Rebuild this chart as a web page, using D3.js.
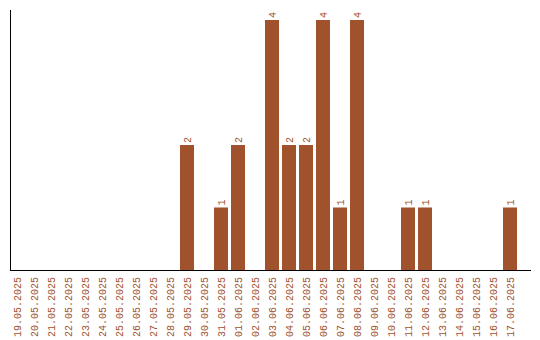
<!DOCTYPE html>
<html>
<head>
<meta charset="utf-8">
<script src="https://cdn.jsdelivr.net/npm/d3@7"></script>
<style>
  body { margin: 0; background: #fff; }
  text { font-family: "Liberation Mono", monospace; font-size: 10px; fill: #a0522d; }
</style>
</head>
<body>
<svg width="540" height="340"></svg>
<script>
var dates = ["19.05.2025", "20.05.2025", "21.05.2025", "22.05.2025", "23.05.2025",
    "24.05.2025", "25.05.2025", "26.05.2025", "27.05.2025", "28.05.2025",
    "29.05.2025", "30.05.2025", "31.05.2025", "01.06.2025", "02.06.2025",
    "03.06.2025", "04.06.2025", "05.06.2025", "06.06.2025", "07.06.2025",
    "08.06.2025", "09.06.2025", "10.06.2025", "11.06.2025", "12.06.2025",
    "13.06.2025", "14.06.2025", "15.06.2025", "16.06.2025", "17.06.2025"];
var counts = [0, 0, 0, 0, 0, 0, 0, 0, 0, 0,
    2, 0, 1, 2, 0, 4, 2, 2, 4, 1,
    4, 0, 0, 1, 1, 0, 0, 0, 0, 1];

var data = dates.map(function (d, i) { return { date: d, count: counts[i] }; });

var svg = d3.select("svg"),
    plotLeft = 10, plotRight = 531, plotTop = 10, plotBottom = 270;

var x = d3.scaleBand().domain(dates).range([plotLeft, 517]).paddingInner(3 / 17).paddingOuter(0);
var y = d3.scaleLinear().domain([0, d3.max(counts) * 1.04]).range([plotBottom, plotTop]);

var nonZero = data.filter(function (d) { return d.count > 0; });

svg.selectAll(".bar")
    .data(nonZero)
    .enter().append("rect")
    .attr("class", "bar")
    .attr("x", function (d) { return x(d.date); })
    .attr("y", function (d) { return y(d.count); })
    .attr("width", x.bandwidth())
    .attr("height", function (d) { return plotBottom - y(d.count); })
    .attr("fill", "#a0522d");

// value labels above bars
svg.selectAll(".val")
    .data(nonZero)
    .enter().append("text")
    .attr("class", "val")
    .attr("transform", function (d) {
        return "translate(" + (x(d.date) + x.bandwidth() / 2 + 3.5) + "," + (y(d.count) - 2) + ") rotate(-90)";
    })
    .attr("text-anchor", "start")
    .text(function (d) { return d.count; });

// date labels
svg.selectAll(".lbl")
    .data(data)
    .enter().append("text")
    .attr("class", "lbl")
    .attr("transform", function (d) {
        return "translate(" + (x(d.date) + x.bandwidth() / 2 + 3.5) + "," + (plotBottom + 7) + ") rotate(-90)";
    })
    .attr("text-anchor", "end")
    .text(function (d) { return d.date; });

// axis lines
svg.append("line")
    .attr("x1", plotLeft + 0.5).attr("x2", plotLeft + 0.5)
    .attr("y1", plotTop).attr("y2", plotBottom)
    .attr("stroke", "#000");
svg.append("line")
    .attr("x1", plotLeft).attr("x2", plotRight)
    .attr("y1", plotBottom + 0.5).attr("y2", plotBottom + 0.5)
    .attr("stroke", "#000");
</script>
</body>
</html>
